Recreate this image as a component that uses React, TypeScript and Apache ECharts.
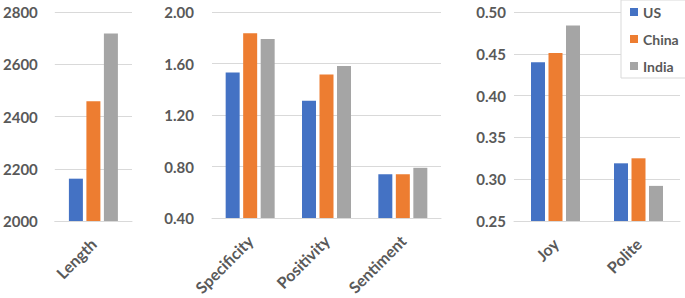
import React, { useEffect, useRef } from "react";
import * as echarts from "echarts";

const categoriesA = ["Length"];
const categoriesB = ["Specificity", "Positivity", "Sentiment"];
const categoriesC = ["Joy", "Polite"];

const usA = [2162];
const chinaA = [2458];
const indiaA = [2718];

const usB = [1.53, 1.31, 0.74];
const chinaB = [1.835, 1.515, 0.74];
const indiaB = [1.79, 1.58, 0.79];

const usC = [0.44, 0.319];
const chinaC = [0.451, 0.325];
const indiaC = [0.484, 0.292];

const seriesNames = ["US", "China", "India"];
const colors = ["#4472C4", "#ED7D31", "#A5A5A5"];

const FONT = "Lato";
const TXT = "#595959";

export default function App() {
  const ref = useRef<HTMLDivElement>(null);
  useEffect(() => {
    document.body.style.margin = "0";
    const chart = echarts.init(ref.current!, null, { renderer: "svg" });
    const grids = [
      { left: 52, top: 12, width: 80, height: 209 },
      { left: 212, top: 12, width: 229, height: 209 },
      { left: 514, top: 12, width: 166, height: 209 },
    ];
    const cats = [categoriesA, categoriesB, categoriesC];
    const yCfg = [
      { min: 2000, max: 2800, interval: 200, fmt: (v: number) => String(Math.round(v)), margin: 17 },
      { min: 0.4, max: 2.0, interval: 0.4, fmt: (v: number) => v.toFixed(2), margin: 18 },
      { min: 0.25, max: 0.5, interval: 0.05, fmt: (v: number) => v.toFixed(2), margin: 8 },
    ];
    const data = [
      [usA, chinaA, indiaA],
      [usB, chinaB, indiaB],
      [usC, chinaC, indiaC],
    ];
    const series: any[] = [];
    data.forEach((group, gi) => {
      group.forEach((vals, si) => {
        series.push({
          type: "bar",
          name: seriesNames[si],
          xAxisIndex: gi,
          yAxisIndex: gi,
          data: vals,
          barWidth: 14,
          barGap: "25%",
          itemStyle: { color: colors[si] },
        });
      });
    });
    chart.setOption({
      animation: false,
      color: colors,
      grid: grids,
      legend: {
        data: seriesNames,
        orient: "vertical",
        left: 621,
        top: 0,
        width: 62,
        padding: [5, 16, 5, 9],
        itemWidth: 8,
        itemHeight: 8,
        itemGap: 13,
        icon: "rect",
        borderColor: "#D9D9D9",
        borderWidth: 1,
        backgroundColor: "#fff",
        textStyle: { fontFamily: FONT, fontWeight: "bold", fontSize: 14, color: TXT },
      },
      xAxis: cats.map((c, i) => ({
        type: "category",
        gridIndex: i,
        data: c,
        axisTick: { show: false },
        axisLine: { lineStyle: { color: "#D9D9D9", width: 1 } },
        axisLabel: {
          rotate: 45,
          margin: 20,
          interval: 0,
          fontFamily: FONT,
          fontWeight: "bold",
          fontSize: 16,
          color: TXT,
        },
      })),
      yAxis: yCfg.map((y, i) => ({
        type: "value",
        gridIndex: i,
        min: y.min,
        max: y.max,
        interval: y.interval,
        axisLine: { show: false },
        axisTick: { show: false },
        splitLine: { lineStyle: { color: "#D9D9D9", width: 1 } },
        axisLabel: {
          formatter: y.fmt,
          margin: y.margin,
          fontFamily: FONT,
          fontWeight: "bold",
          fontSize: 15,
          color: TXT,
        },
      })),
      series,
    });
    return () => chart.dispose();
  }, []);
  return <div ref={ref} style={{ width: 685, height: 298 }} />;
}
